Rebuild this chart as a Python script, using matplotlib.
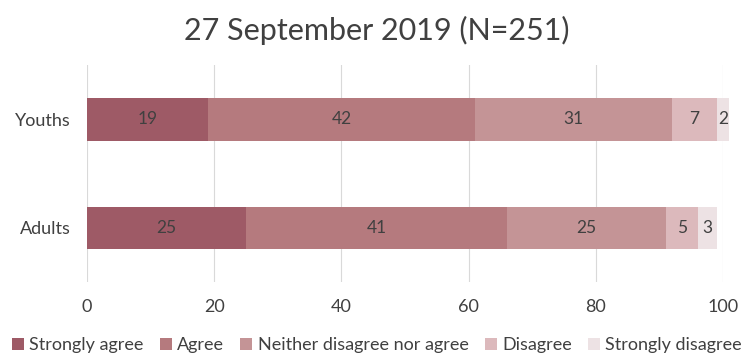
import matplotlib
matplotlib.use("Agg")
import matplotlib.pyplot as plt
from matplotlib.patches import Patch

plt.rcParams['font.family'] = ['Lato', 'DejaVu Sans']

categories = ["Youths", "Adults"]
series_names = ["Strongly agree", "Agree", "Neither disagree nor agree", "Disagree", "Strongly disagree"]
youths = [19, 42, 31, 7, 2]
adults = [25, 41, 25, 5, 3]
colors = ["#9e5a66", "#b57a7e", "#c49496", "#dcb9bc", "#ede2e4"]
title = "27 September 2019 (N=251)"
xticks = [0, 20, 40, 60, 80, 100]

fig = plt.figure(figsize=(7.54, 3.58), dpi=100)
ax = fig.add_axes([0.1154, 0.2123, 0.8435, 0.6057])

values = [youths, adults]
ypos = [1, 0]
lefts = [0, 0]
for j, name in enumerate(series_names):
    vals = [v[j] for v in values]
    bars = ax.barh(ypos, vals, left=lefts, height=0.39, color=colors[j], zorder=3, clip_on=False)
    for b, v in zip(bars, vals):
        ax.text(b.get_x() + b.get_width() / 2, b.get_y() + b.get_height() / 2, str(v),
                ha='center', va='center', fontsize=12.5, color='#404040', zorder=4)
    lefts = [l + v for l, v in zip(lefts, vals)]

ax.set_xlim(0, 100)
ax.set_ylim(-0.5, 1.5)
ax.set_yticks(ypos)
ax.set_yticklabels(categories, fontsize=13, color='#404040')
ax.set_xticks(xticks)
ax.set_xticklabels([str(t) for t in xticks], fontsize=13, color='#404040')
ax.tick_params(length=0, pad=12)
ax.grid(axis='x', color='#d9d9d9', linewidth=0.8, zorder=0)
for s in ax.spines.values():
    s.set_visible(False)

fig.text(0.5, 0.915, title, ha='center', va='center', fontsize=22, color='#404040')

handles = [Patch(facecolor=c) for c in colors]
fig.legend(handles, series_names, loc='center', bbox_to_anchor=(0.5, 0.035), ncol=5,
           frameon=False, fontsize=13, handlelength=0.65, handleheight=0.65,
           handletextpad=0.3, columnspacing=0.9, labelcolor='#404040')

fig.savefig("out.png", dpi=100)
